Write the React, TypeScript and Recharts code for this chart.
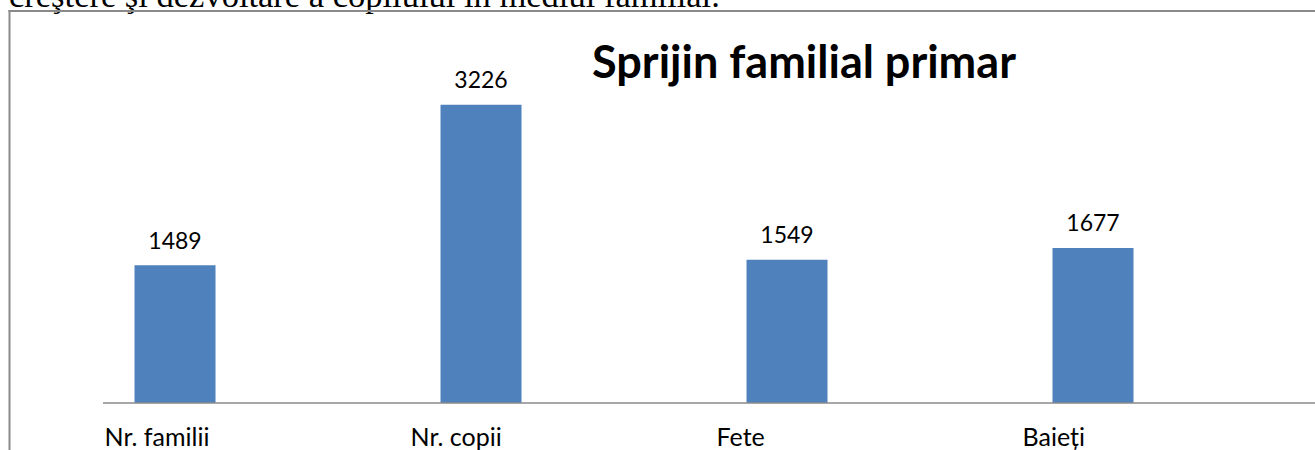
import React from 'react';
import { BarChart, Bar, XAxis, YAxis, LabelList } from 'recharts';

const categories: string[] = ['Nr. familii', 'Nr. copii', 'Fete', 'Baieți'];
const values: number[] = [1489, 3226, 1549, 1677];
const positions: number[] = [0, 1, 2, 3];
const titleText = 'Sprijin familial primar';
const headerText = 'creştere şi dezvoltare a copilului în mediul familial.';

const data = categories.map((c, i) => ({ pos: positions[i], name: c, value: values[i] }));

const FONT = 'Lato, "Noto Sans", sans-serif';

function CategoryTick(props: any) {
  const { x, y, payload } = props;
  return (
    <text x={x - 71} y={y} dy={43} fontFamily={FONT} fontSize={25} fill="#000" textAnchor="start">
      {categories[payload.value]}
    </text>
  );
}

function ValueLabel(props: any) {
  const { x, y, width, value } = props;
  return (
    <text x={x + width / 2} y={y - 16.5} fontFamily={FONT} fontSize={23} fill="#000" textAnchor="middle">
      {value}
    </text>
  );
}

export default function App() {
  return (
    <div style={{ position: 'fixed', left: 0, top: 0, width: 1315, height: 450, overflow: 'hidden', background: '#fff' }}>
      <div style={{ position: 'absolute', left: 0, top: 0 }}>
        <BarChart width={1348} height={450} data={data} margin={{ top: 79.5, right: 9.7, left: 103, bottom: 0 }}>
          <XAxis
            type="number"
            dataKey="pos"
            domain={[-0.237, 3.8]}
            allowDataOverflow
            ticks={positions}
            interval={0}
            tickLine={false}
            tickSize={0}
            tickMargin={0}
            height={47}
            axisLine={{ stroke: '#8a8a8a', strokeWidth: 1.6 }}
            tick={<CategoryTick />}
          />
          <YAxis hide width={0} domain={[0, 3500]} allowDataOverflow />
          <Bar dataKey="value" fill="#4F81BD" barSize={81} isAnimationActive={false}>
            <LabelList dataKey="value" content={<ValueLabel />} />
          </Bar>
        </BarChart>
      </div>
      <svg width={1315} height={450} style={{ position: 'absolute', left: 0, top: 0, pointerEvents: 'none' }}>
        <text x={9} y={6.7} fontFamily='"Liberation Serif", "Times New Roman", serif' fontSize={34.5} fill="#000">
          {headerText}
        </text>
        <line x1={9.5} y1={10} x2={9.5} y2={450} stroke="#8a8a8a" strokeWidth={2} />
        <line x1={8.5} y1={11} x2={1315} y2={11} stroke="#8a8a8a" strokeWidth={2} />
        <text x={804} y={78} textAnchor="middle" fontFamily={FONT} fontWeight={700} fontSize={45} fill="#000">
          {titleText}
        </text>
      </svg>
    </div>
  );
}
